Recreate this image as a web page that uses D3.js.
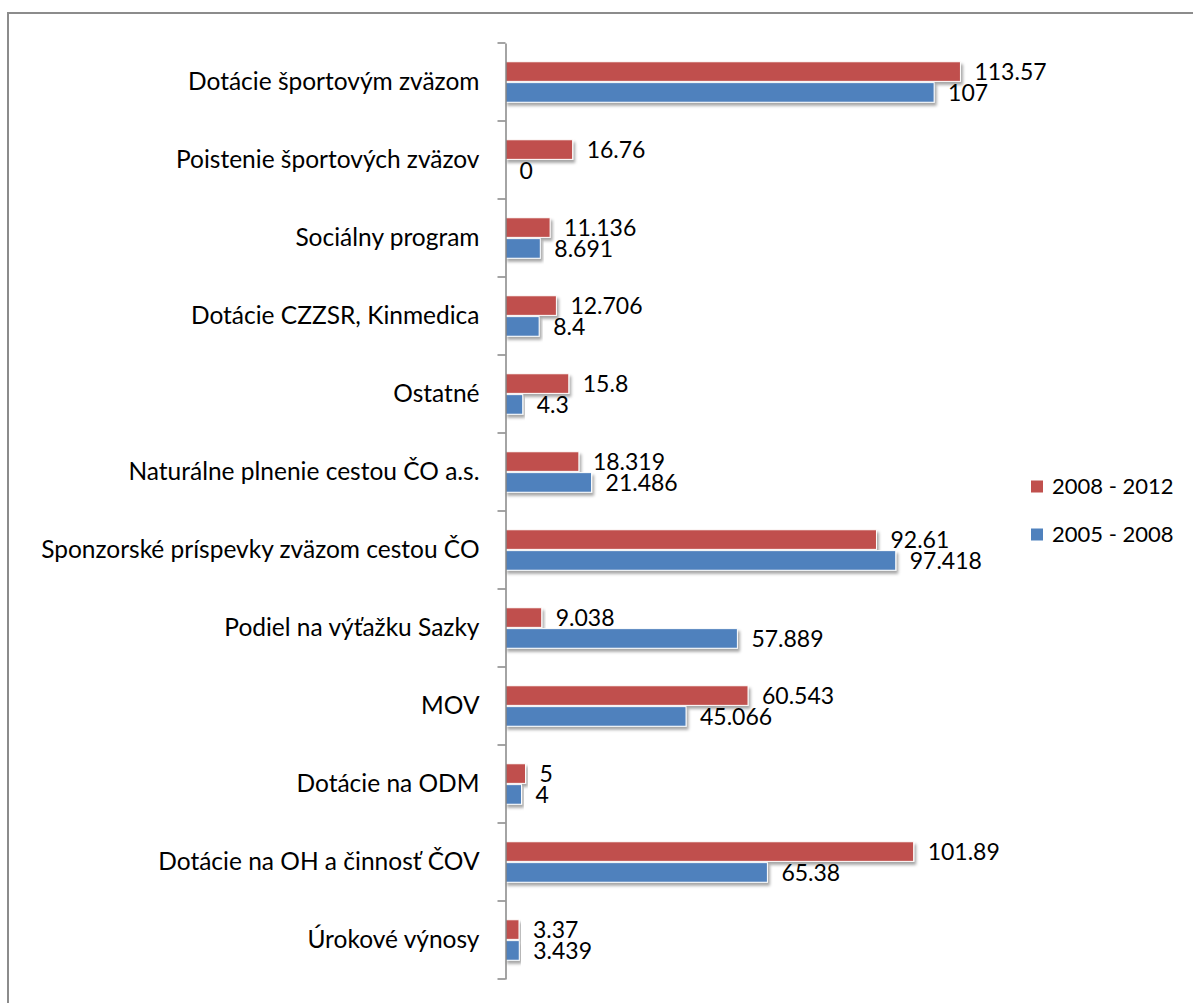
<!DOCTYPE html>
<html>
<head>
<meta charset="utf-8">
<script src="https://cdn.jsdelivr.net/npm/d3@7/dist/d3.min.js"></script>
<style>
  html, body { margin: 0; padding: 0; background: #fff; }
  svg { display: block; font-family: Lato, "Open Sans", sans-serif; }
</style>
</head>
<body>
<svg id="chart" width="1193" height="1003"></svg>
<script>
// Budget items, listed top to bottom
const categories = [
  "Dotácie športovým zväzom",
  "Poistenie športových zväzov",
  "Sociálny program",
  "Dotácie CZZSR, Kinmedica",
  "Ostatné",
  "Naturálne plnenie cestou ČO a.s.",
  "Sponzorské príspevky zväzom cestou ČO",
  "Podiel na výťažku Sazky",
  "MOV",
  "Dotácie na ODM",
  "Dotácie na OH a činnosť ČOV",
  "Úrokové výnosy"
];
const period2008_2012 = [113.57, 16.76, 11.136, 12.706, 15.8, 18.319, 92.61, 9.038, 60.543, 5, 101.89, 3.37];
const period2005_2008 = [107, 0, 8.691, 8.4, 4.3, 21.486, 97.418, 57.889, 45.066, 4, 65.38, 3.439];
const seriesNames = ["2008 - 2012", "2005 - 2008"];
const seriesColors = ["#C0504D", "#4F81BD"];

const series = [period2008_2012, period2005_2008];

const svg = d3.select("#chart");

// outer frame
svg.append("rect")
  .attr("x", 8).attr("y", 13)
  .attr("width", 1300).attr("height", 1100)
  .attr("fill", "none").attr("stroke", "#8c8c8c").attr("stroke-width", 2);

// drop shadow for bars
const defs = svg.append("defs");
const f = defs.append("filter").attr("id", "shadow")
  .attr("x", "-5%").attr("y", "-20%").attr("width", "115%").attr("height", "160%");
f.append("feDropShadow")
  .attr("dx", 2).attr("dy", 3).attr("stdDeviation", 1.8)
  .attr("flood-color", "#000").attr("flood-opacity", 0.35);

const x0 = 505.5;
const x = d3.scaleLinear().domain([0, 120]).range([x0, x0 + 480.7]);
const y = d3.scaleBand().domain(categories).range([43, 979]).paddingInner(0).paddingOuter(0);
const inner = d3.scaleBand().domain([0, 1]).range([17.5, y.bandwidth() - 17.5]).padding(0.06);

// bars
const groups = svg.append("g").selectAll("g")
  .data(categories)
  .join("g")
  .attr("transform", d => `translate(0,${y(d)})`);

groups.each(function(cat, i) {
  const g = d3.select(this);
  series.forEach((vals, s) => {
    const v = vals[i];
    if (v > 0) {
      g.append("rect")
        .attr("x", x(0))
        .attr("y", inner(s))
        .attr("width", x(v) - x(0))
        .attr("height", inner.bandwidth())
        .attr("fill", seriesColors[s])
        .attr("stroke", "#fff")
        .attr("stroke-width", 1)
        .attr("filter", "url(#shadow)");
    }
    g.append("text")
      .attr("x", x(v) + 14)
      .attr("y", inner(s) + inner.bandwidth() / 2)
      .attr("dy", "0.36em")
      .attr("font-size", 23)
      .attr("fill", "#000")
      .text(v);
  });
});

// vertical category axis
const axis = d3.axisLeft(y).tickSize(0).tickPadding(26);
const ag = svg.append("g").attr("transform", `translate(${x0},0)`).call(axis);
ag.select(".domain").attr("stroke", "#868686").attr("stroke-width", 1.5);
ag.selectAll(".tick text")
  .attr("font-size", 24.5)
  .attr("font-family", "Lato, 'Open Sans', sans-serif")
  .attr("fill", "#000");

// tick marks at category boundaries
const bounds = categories.map(c => y(c)).concat([y.range()[1]]);
ag.selectAll(".boundary").data(bounds).join("line")
  .attr("class", "boundary")
  .attr("x1", -8).attr("x2", 0)
  .attr("y1", d => d).attr("y2", d => d)
  .attr("stroke", "#868686").attr("stroke-width", 1.5);

// legend
const legend = svg.append("g").attr("transform", "translate(1031,0)");
seriesNames.forEach((name, s) => {
  const cy = 486.5 + s * 48;
  legend.append("rect")
    .attr("x", 0).attr("y", cy - 6)
    .attr("width", 12).attr("height", 12)
    .attr("fill", seriesColors[s]);
  legend.append("text")
    .attr("x", 21).attr("y", cy)
    .attr("dy", "0.36em")
    .attr("font-size", 22)
    .attr("fill", "#000")
    .text(name);
});
</script>
</body>
</html>
